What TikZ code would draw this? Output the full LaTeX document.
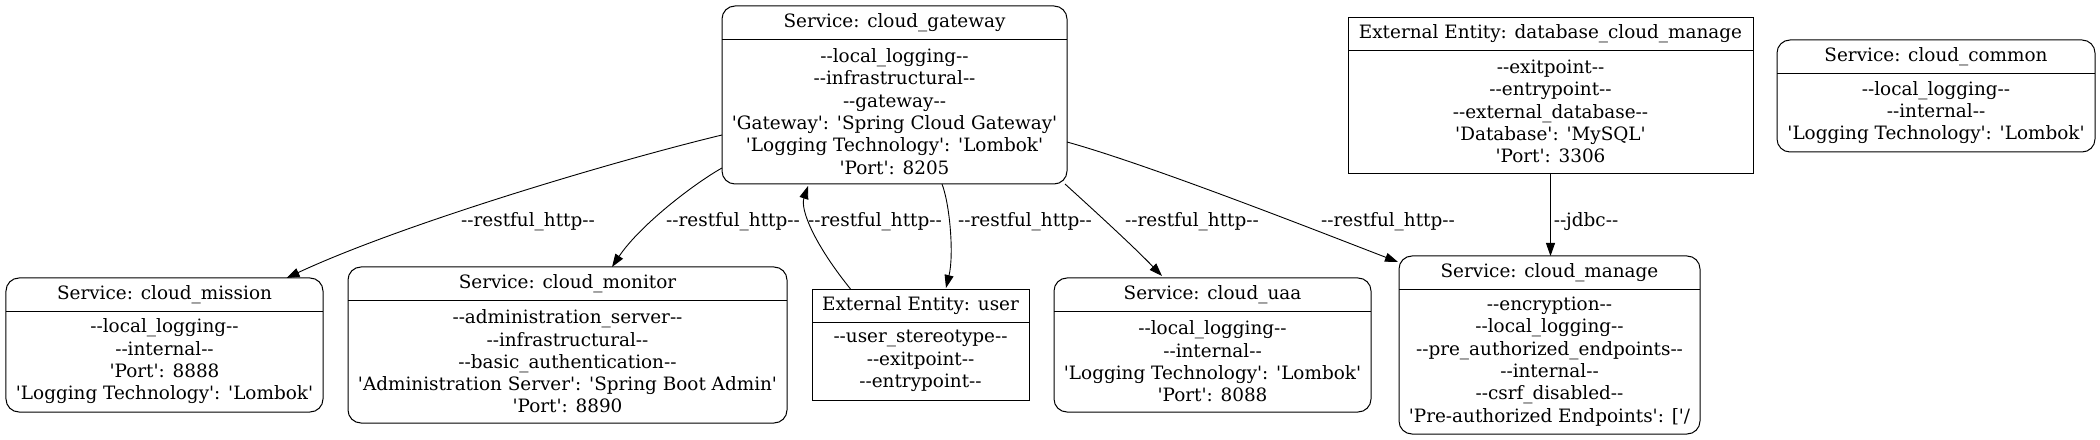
\documentclass[tikz,border=0pt]{standalone}
\usepackage{fontspec}
\newfontfamily\dvs{DejaVu Serif}
\usetikzlibrary{calc,arrows.meta}
\tikzset{
  txt/.style={font=\dvs\fontsize{18.4bp}{22.3bp}\selectfont, inner sep=0pt, align=center},
  ttl/.style={txt},
  bdy/.style={txt},
  lbl/.style={txt},
  svc/.style={draw, line width=1bp, rounded corners=13bp, inner sep=0pt, outer sep=0pt},
  ext/.style={draw, line width=0.9bp, inner sep=0pt, outer sep=0pt},
  sepline/.style={line width=0.9bp},
  edge/.style={line width=0.9bp, -{Triangle[length=13bp,width=9bp]}},
}
\newcommand{\mkbox}[8]{%
  \node[#2, minimum width=#5bp, minimum height=#6bp] (#1) at (#3,#4) {};
  \draw[sepline] ($(#1.north west)+(0,33)$) -- ($(#1.north east)+(0,33)$);
  \node[ttl] (#1T) at ($(#1.north)+(0,16.5)$) {#7};
  \node[bdy] (#1B) at ($(#1.north)+(0,{(#6+33)/2})$) {#8};
}
\begin{document}
\begin{tikzpicture}[x=1bp,y=-1bp]
\useasboundingbox (0,0) rectangle (2100,440);

\mkbox{gw}{svc}{894.5}{95}{345}{178}{Service: cloud\_gateway}{--local\_logging--\\--infrastructural--\\--gateway--\\'Gateway': 'Spring Cloud Gateway'\\'Logging Technology': 'Lombok'\\'Port': 8205}
\mkbox{db}{ext}{1550.5}{95}{405}{156}{External Entity: database\_cloud\_manage}{--exitpoint--\\--entrypoint--\\--external\_database--\\'Database': 'MySQL'\\'Port': 3306}
\mkbox{cm}{svc}{1936}{96}{318}{112}{Service: cloud\_common}{--local\_logging--\\--internal--\\'Logging Technology': 'Lombok'}
\mkbox{mi}{svc}{164.5}{345}{317}{134}{Service: cloud\_mission}{--local\_logging--\\--internal--\\'Port': 8888\\'Logging Technology': 'Lombok'}
\mkbox{mo}{svc}{567.5}{345}{439}{156}{Service: cloud\_monitor}{--administration\_server--\\--infrastructural--\\--basic\_authentication--\\'Administration Server': 'Spring Boot Admin'\\'Port': 8890}
\mkbox{us}{ext}{920.5}{344.5}{217}{111}{External Entity: user}{--user\_stereotype--\\--exitpoint--\\--entrypoint--}
\mkbox{ua}{svc}{1212.5}{345}{317}{134}{Service: cloud\_uaa}{--local\_logging--\\--internal--\\'Logging Technology': 'Lombok'\\'Port': 8088}
\mkbox{ma}{svc}{1549.5}{345}{301}{178}{Service: cloud\_manage}{--encryption--\\--local\_logging--\\--pre\_authorized\_endpoints--\\--internal--\\--csrf\_disabled--\\'Pre-authorized Endpoints': ['/}

% connectors
\draw[edge] ($(gw.west)+(0,40)$) .. controls (610,162) and (400,225) .. ($(mi.north)+(122,0)$);
\draw[edge] ($(gw.west)+(0,73)$) .. controls (695,183) and (640,225) .. ($(mo.north)+(44.5,0)$);
\draw[edge] ($(us.north)+(-70,0)$) .. controls (815,245) and (800,210) .. ($(gw.south)+(-86.5,2)$);
\draw[edge] ($(gw.south)+(47.5,0)$) .. controls (950,205) and (954,255) .. ($(us.north)+(25.5,-1)$);
\draw[edge] ($(gw.south east)+(-2,0)$) .. controls (1088,205) and (1130,243) .. ($(ua.north)+(-50.5,-2)$);
\draw[edge] ($(gw.east)+(0,47)$) .. controls (1150,165) and (1320,232) .. ($(ma.north west)+(-1,6)$);
\draw[edge] (db.south) -- (db.south |- ma.north);

% labels
\node[lbl] (l1) at (528,222) {--restful\_http--};
\node[lbl] (l2) at (733,222) {--restful\_http--};
\node[lbl] (l3) at (875,222) {--restful\_http--};
\node[lbl] (l4) at (1025,222) {--restful\_http--};
\node[lbl] (l5) at (1192,222) {--restful\_http--};
\node[lbl] (l6) at (1388,222) {--restful\_http--};
\node[lbl] (l7) at (1586,222) {--jdbc--};
\end{tikzpicture}
\end{document}
